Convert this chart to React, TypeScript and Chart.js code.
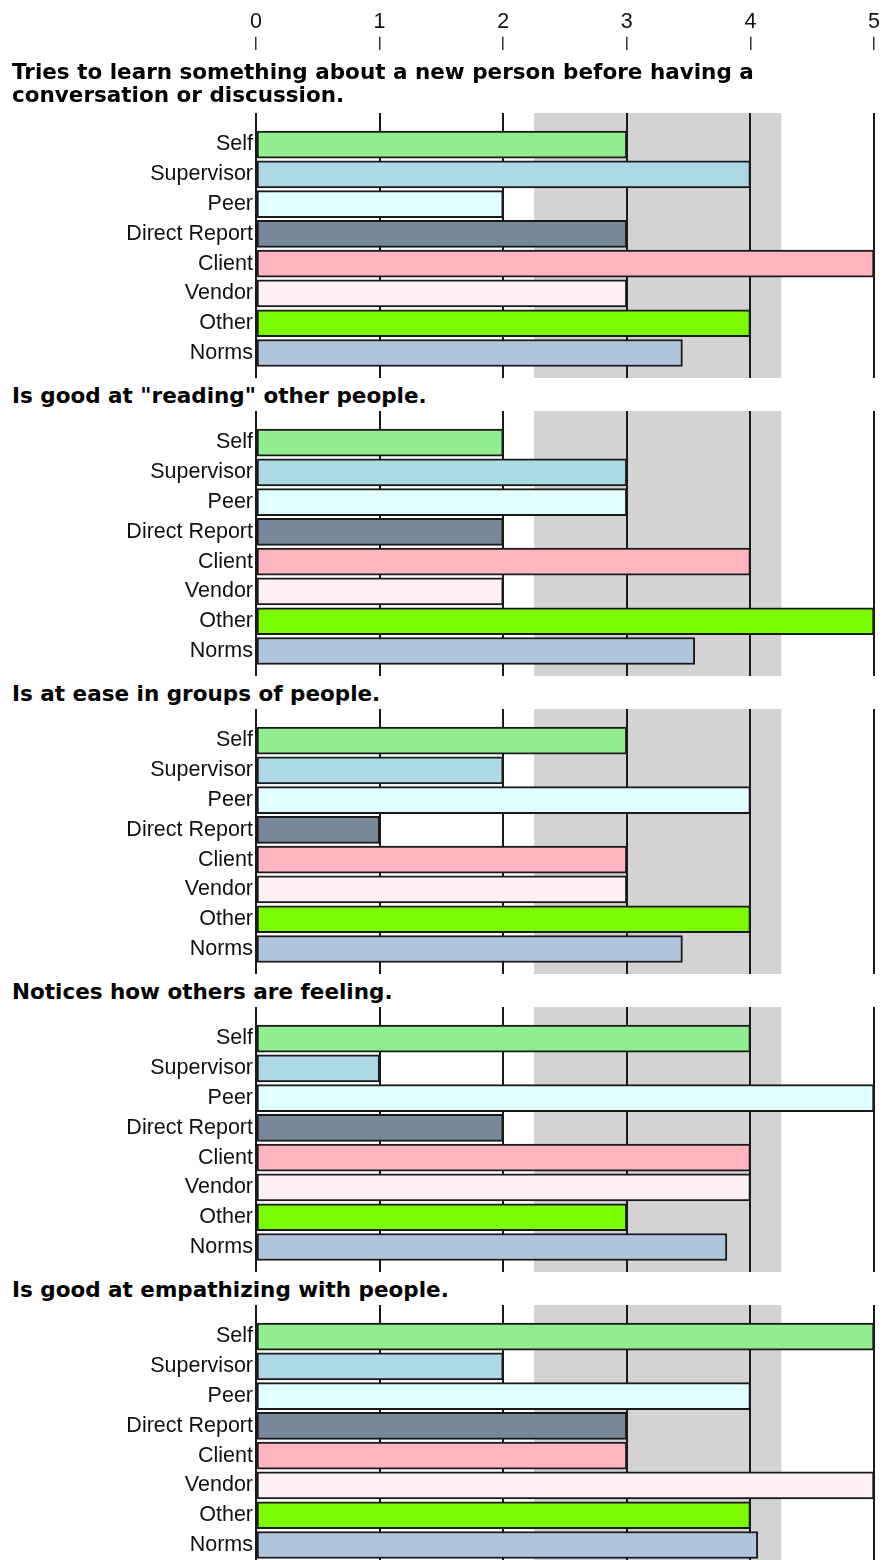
import React, { useEffect, useRef } from 'react';
import { Chart, registerables } from 'chart.js';

Chart.register(...registerables);

// ---------- data ----------
const categories = ['Self', 'Supervisor', 'Peer', 'Direct Report', 'Client', 'Vendor', 'Other', 'Norms'];
const barColors = ['#90EE90', '#ADD8E6', '#E0FFFF', '#778899', '#FFB6C1', '#FFF0F5', '#7CFC00', '#B0C4DE'];
const questions = [
  'Tries to learn something about a new person before having a\nconversation or discussion.',
  'Is good at "reading" other people.',
  'Is at ease in groups of people.',
  'Notices how others are feeling.',
  'Is good at empathizing with people.',
];
const q1Values = [3, 4, 2, 3, 5, 3, 4, 3.45];
const q2Values = [2, 3, 3, 2, 4, 2, 5, 3.55];
const q3Values = [3, 2, 4, 1, 3, 3, 4, 3.45];
const q4Values = [4, 1, 5, 2, 4, 4, 3, 3.81];
const q5Values = [5, 2, 4, 3, 3, 5, 4, 4.06];
const xTicks = [0, 1, 2, 3, 4, 5];
const normBandLow = 2.25;
const normBandHigh = 4.25;

const groupValues = [q1Values, q2Values, q3Values, q4Values, q5Values];

// ---------- layout ----------
const W = 883;
const H = 1560;
const PLOT_LEFT = 256;
const PAD_RIGHT = 9;
const FIRST_TOP = 113;
const GROUP_STEP = 298;
const GROUP_H = 265;
const ROW_MIN = -1.06;
const ROW_MAX = 7.84;
const LINE = '#1a1a1a';
const labelFont = { family: "'Liberation Sans', Arial, sans-serif", size: 21.5 };

const bandPlugin = {
  id: 'normBand',
  beforeDraw(chart: any) {
    const { ctx, chartArea, scales } = chart;
    const x = scales.x;
    const x0 = x.getPixelForValue(normBandLow);
    const x1 = x.getPixelForValue(normBandHigh);
    ctx.save();
    ctx.fillStyle = '#D3D3D3';
    ctx.fillRect(x0, chartArea.top, x1 - x0, chartArea.bottom - chartArea.top);
    ctx.restore();
  },
};

function groupConfig(values: number[]): any {
  return {
    type: 'bar',
    data: {
      datasets: [
        {
          data: values.map((v, i) => ({ x: v, y: i })),
          backgroundColor: barColors,
          borderColor: LINE,
          borderWidth: 2,
          borderSkipped: false,
          barThickness: 27,
        },
      ],
    },
    options: {
      indexAxis: 'y',
      animation: false,
      responsive: false,
      maintainAspectRatio: false,
      layout: { padding: { left: 0, right: PAD_RIGHT, top: 0, bottom: 0 } },
      plugins: { legend: { display: false }, tooltip: { enabled: false }, title: { display: false } },
      scales: {
        x: {
          type: 'linear',
          min: 0,
          max: 5,
          position: 'top',
          offset: false,
          afterBuildTicks: (s: any) => {
            s.ticks = xTicks.map((v) => ({ value: v }));
          },
          ticks: { display: false },
          grid: { color: LINE, lineWidth: 2, drawTicks: false, offset: false },
          border: { display: false },
          afterFit: (s: any) => {
            s.height = 0;
            s.paddingLeft = 0;
            s.paddingRight = 0;
          },
        },
        y: {
          type: 'linear',
          reverse: true,
          offset: false,
          bounds: 'data',
          grace: 0,
          min: ROW_MIN,
          max: ROW_MAX,
          afterBuildTicks: (s: any) => {
            s.ticks = categories.map((_, i) => ({ value: i }));
          },
          ticks: {
            autoSkip: false,
            padding: 3,
            color: '#111',
            font: labelFont,
            callback: (v: any) => categories[v] ?? '',
          },
          grid: { display: false, drawTicks: false, offset: false },
          border: { display: true, color: LINE, width: 2 },
          afterFit: (s: any) => {
            s.width = PLOT_LEFT;
            s.paddingTop = 0;
            s.paddingBottom = 0;
          },
        },
      },
    },
    plugins: [bandPlugin],
  };
}

function axisConfig(): any {
  return {
    type: 'bar',
    data: { datasets: [] },
    options: {
      indexAxis: 'y',
      animation: false,
      responsive: false,
      maintainAspectRatio: false,
      layout: { padding: { left: PLOT_LEFT, right: PAD_RIGHT, top: 7, bottom: 0 } },
      plugins: { legend: { display: false }, tooltip: { enabled: false } },
      scales: {
        x: {
          type: 'linear',
          min: 0,
          max: 5,
          position: 'top',
          offset: false,
          afterBuildTicks: (s: any) => {
            s.ticks = xTicks.map((v) => ({ value: v }));
          },
          ticks: { color: '#111', font: labelFont, padding: 2 },
          grid: { drawOnChartArea: false, drawTicks: true, tickLength: 13, color: '#333', lineWidth: 1.5, offset: false },
          border: { display: false },
        },
        y: { display: false },
      },
    },
  };
}

export default function App() {
  const axisRef = useRef<HTMLCanvasElement | null>(null);
  const groupRefs = useRef<(HTMLCanvasElement | null)[]>([]);

  useEffect(() => {
    const charts: Chart[] = [];
    if (axisRef.current) charts.push(new Chart(axisRef.current, axisConfig()));
    groupValues.forEach((vals, i) => {
      const c = groupRefs.current[i];
      if (c) charts.push(new Chart(c, groupConfig(vals)));
    });
    return () => charts.forEach((c) => c.destroy());
  }, []);

  const titleStyle = (top: number): React.CSSProperties => ({
    position: 'absolute',
    left: 12,
    top,
    margin: 0,
    font: "bold 21.5px 'DejaVu Sans', Verdana, sans-serif",
    lineHeight: '23px',
    color: '#000',
    whiteSpace: 'pre-line',
  });

  return (
    <div style={{ position: 'absolute', left: 0, top: 0, width: W, height: H, overflow: 'hidden', background: '#fff' }}>
      <canvas ref={axisRef} width={W} height={110} style={{ position: 'absolute', left: 0, top: 0, display: 'block' }} />
      {questions.map((q, i) => {
        const top = FIRST_TOP + GROUP_STEP * i;
        const titleTop = i === 0 ? 60 : top - 27;
        return (
          <React.Fragment key={i}>
            <div style={titleStyle(titleTop)}>{q}</div>
            <canvas
              ref={(el) => {
                groupRefs.current[i] = el;
              }}
              width={W}
              height={GROUP_H}
              style={{ position: 'absolute', left: 0, top, display: 'block' }}
            />
          </React.Fragment>
        );
      })}
    </div>
  );
}
